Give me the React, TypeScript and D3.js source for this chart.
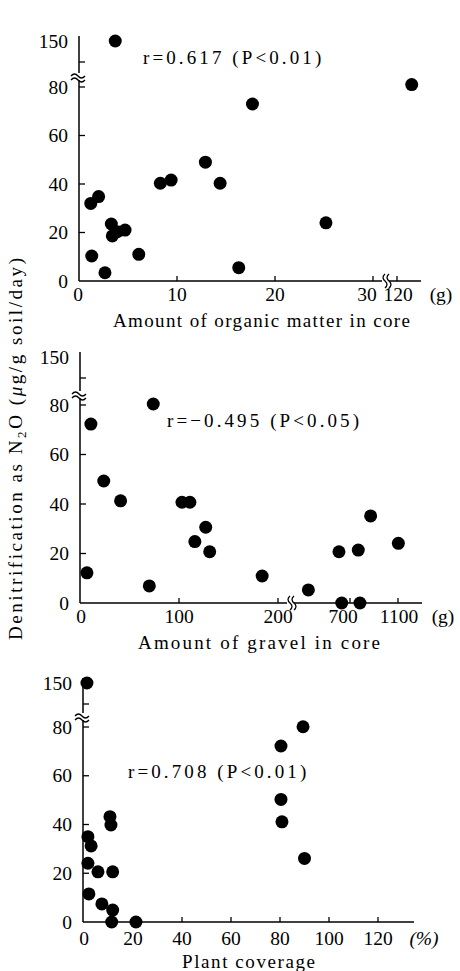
import React from "react";
import * as d3 from "d3";

// organic matter in core (g) vs denitrification
const organicX = [3.7, 121.5, 17.7, 12.9, 8.3, 9.4, 14.4, 1.2, 2.0, 3.3, 3.4, 3.9, 4.7, 1.3, 6.1, 2.65, 16.3, 25.2];
const organicY = [150, 81, 73, 49, 40.3, 41.6, 40.3, 32, 34.8, 23.5, 18.6, 20.3, 21, 10.3, 11, 3.4, 5.5, 24];

// gravel in core (g)
const gravelX = [74, 11, 24, 41, 103, 111, 127, 116, 131, 7, 70, 184, 353, 608, 631, 769, 783, 872, 1103];
const gravelY = [80.4, 72.3, 49.3, 41.3, 40.7, 40.7, 30.6, 24.8, 20.7, 12.2, 6.9, 10.9, 5.3, 20.7, 0, 21.4, 0, 35.2, 24.1];

// plant coverage (%)
const coverX = [1.2, 89.4, 80.4, 80.4, 80.8, 90, 10.6, 11, 1.6, 2.9, 1.6, 5.7, 11.7, 2, 7.3, 11.7, 11.3, 21.2];
const coverY = [150, 80.1, 72.2, 50.3, 41.1, 26.1, 43.2, 39.8, 35, 31.2, 24.1, 20.6, 20.6, 11.5, 7.4, 4.9, 0, 0];

const yTicks = [20, 40, 60, 80];
const yLabels = [0, 20, 40, 60, 80];

const FONT = "'Liberation Serif', 'DejaVu Serif', 'Times New Roman', serif";

type Panel = {
  xs: number[];
  ys: number[];
  ax: number; // y axis x
  y0: number;
  y80: number;
  y150: number;
  seg1: [number, number, number, number];
  seg2?: [number, number, number, number];
  split?: number;
  axisEnd: number;
  xBreak?: number;
  ticks1: number[];
  ticks2: number[];
  labels: { v: number; dx: number }[];
  unit: string;
  unitX: number;
  labelDy: number;
  title: string;
  titleX: number;
  titleLen: number;
  rText: string;
  rX: number;
  rY: number;
};

const panels: Panel[] = [
  {
    xs: organicX, ys: organicY, ax: 79, y0: 281, y80: 87, y150: 41,
    seg1: [0, 30, 79, 373], seg2: [120, 122.5, 397, 421.5], split: 60,
    axisEnd: 421, xBreak: 386, ticks1: [10, 20, 30], ticks2: [120],
    labels: [{ v: 0, dx: -1 }, { v: 10, dx: 0 }, { v: 20, dx: 0 }, { v: 30, dx: -6 }, { v: 120, dx: 1 }],
    unit: "(g)", unitX: 441, labelDy: 20,
    title: "Amount of organic matter in core", titleX: 113, titleLen: 297,
    rText: "r=0.617 (P<0.01)", rX: 143, rY: 64,
  },
  {
    xs: gravelX, ys: gravelY, ax: 80, y0: 603, y80: 405, y150: 357,
    seg1: [0, 200, 80, 278], seg2: [700, 1100, 350, 398], split: 250,
    axisEnd: 422, xBreak: 291, ticks1: [100, 200], ticks2: [700, 1100],
    labels: [{ v: 0, dx: 1 }, { v: 100, dx: 0 }, { v: 200, dx: 0 }, { v: 700, dx: -7 }, { v: 1100, dx: 1 }],
    unit: "(g)", unitX: 443, labelDy: 20,
    title: "Amount of gravel in core", titleX: 138, titleLen: 242,
    rText: "r=\u22120.495 (P<0.05)", rX: 167, rY: 427,
  },
  {
    xs: coverX, ys: coverY, ax: 83, y0: 922, y80: 727, y150: 683,
    seg1: [0, 120, 84, 378],
    axisEnd: 414, ticks1: [20, 40, 60, 80, 100, 120], ticks2: [],
    labels: [0, 20, 40, 60, 80, 100, 120].map((v) => ({ v, dx: 0 })),
    unit: "(%)", unitX: 424, labelDy: 23,
    title: "Plant coverage", titleX: 182, titleLen: 133,
    rText: "r=0.708 (P<0.01)", rX: 128, rY: 778,
  },
];

function ScatterPanel({ p }: { p: Panel }) {
  const lower = d3.scaleLinear().domain([0, 80]).range([p.y0, p.y80]);
  const upper = d3.scaleLinear().domain([100, 150]).range([p.y150 + 21, p.y150]);
  const yPos = (v: number) => (v >= 100 ? upper(v) : lower(v));

  const s1 = d3.scaleLinear().domain([p.seg1[0], p.seg1[1]]).range([p.seg1[2], p.seg1[3]]);
  const s2 = p.seg2 ? d3.scaleLinear().domain([p.seg2[0], p.seg2[1]]).range([p.seg2[2], p.seg2[3]]) : null;
  const xPos = (v: number) => (s2 && p.split !== undefined && v > p.split ? s2(v) : s1(v));

  const yBreak = p.y80 - 10;
  const axisTop = p.y150 - 5;

  return (
    <g>
      {/* y axis */}
      <line x1={p.ax} x2={p.ax} y1={axisTop} y2={p.y0} stroke="#000" strokeWidth={1.5} />
      {yTicks.map((t) => (
        <line key={t} x1={p.ax} x2={p.ax + 6} y1={lower(t)} y2={lower(t)} stroke="#000" strokeWidth={1.3} />
      ))}
      <line x1={p.ax} x2={p.ax + 6} y1={upper(100)} y2={upper(100)} stroke="#000" strokeWidth={1.3} />
      {yLabels.map((t) => (
        <text key={t} x={p.ax - 11} y={lower(t) + 6.5} textAnchor="end" fontSize={19.5}>{t}</text>
      ))}
      <text x={p.ax - 11} y={upper(150) + 6.5} textAnchor="end" fontSize={19.5}>150</text>
      {/* y break */}
      <rect x={p.ax - 7} y={yBreak - 4} width={14} height={7} fill="#fff" />
      <path d={`M${p.ax - 8},${yBreak - 1} q3.5,-4 7,0 t7,0`} fill="none" stroke="#000" strokeWidth={1.3} />
      <path d={`M${p.ax - 8},${yBreak + 3} q3.5,-4 7,0 t7,0`} fill="none" stroke="#000" strokeWidth={1.3} />

      {/* x axis */}
      <line x1={p.ax} x2={p.axisEnd} y1={p.y0} y2={p.y0} stroke="#000" strokeWidth={1.5} />
      {p.ticks1.map((t) => (
        <line key={"a" + t} x1={s1(t)} x2={s1(t)} y1={p.y0} y2={p.y0 - 5} stroke="#000" strokeWidth={1.3} />
      ))}
      {s2 && p.ticks2.map((t) => (
        <line key={"b" + t} x1={s2(t)} x2={s2(t)} y1={p.y0} y2={p.y0 - 5} stroke="#000" strokeWidth={1.3} />
      ))}
      {p.xBreak !== undefined && (
        <g>
          <rect x={p.xBreak - 4} y={p.y0 - 7} width={7} height={14} fill="#fff" />
          <path d={`M${p.xBreak - 1},${p.y0 - 7} q-4,3.5 0,7 t0,7`} fill="none" stroke="#000" strokeWidth={1.3} />
          <path d={`M${p.xBreak + 3},${p.y0 - 7} q-4,3.5 0,7 t0,7`} fill="none" stroke="#000" strokeWidth={1.3} />
        </g>
      )}
      {p.labels.map((l) => (
        <text key={l.v} x={xPos(l.v) + l.dx} y={p.y0 + p.labelDy} textAnchor="middle" fontSize={19.5}>{l.v}</text>
      ))}
      <text x={p.unitX} y={p.y0 + p.labelDy} textAnchor="middle" fontSize={19.5}
        fontStyle={p.unit === "(%)" ? "italic" : "normal"}>{p.unit}</text>
      <text x={p.titleX} y={p.y0 + 46} fontSize={19} textLength={p.titleLen} lengthAdjust="spacing">{p.title}</text>

      {/* correlation */}
      <text x={p.rX} y={p.rY} fontSize={19} letterSpacing={3.1}>{p.rText}</text>

      {/* points */}
      {p.xs.map((x, i) => (
        <circle key={i} cx={xPos(x)} cy={yPos(p.ys[i])} r={6.5} fill="#000" />
      ))}
    </g>
  );
}

export default function App() {
  return (
    <svg width={460} height={971} style={{ position: "absolute", left: 0, top: 0, background: "#fff", fontFamily: FONT }}
      fill="#000">
      <rect width={460} height={971} fill="#fff" />
      {panels.map((p, i) => (
        <ScatterPanel key={i} p={p} />
      ))}
      <text transform="translate(22,449) rotate(-90)" textAnchor="middle" fontSize={19} textLength={382}
        lengthAdjust="spacing">
        Denitrification as N<tspan fontSize={13} dy={4}>2</tspan><tspan dy={-4}>O (</tspan>
        <tspan fontStyle="italic">μ</tspan>g/g soil/day)
      </text>
    </svg>
  );
}
